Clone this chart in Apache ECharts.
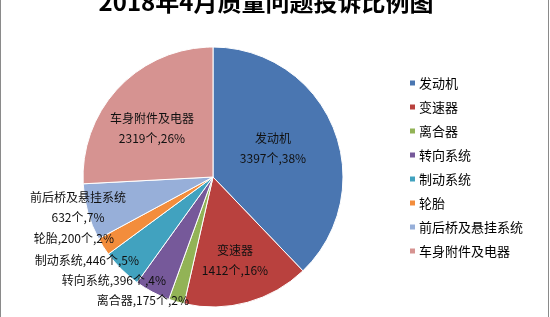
<!DOCTYPE html>
<html>
<head>
<meta charset="utf-8">
<script src="https://cdn.jsdelivr.net/npm/echarts@6/dist/echarts.min.js"></script>
<style>
  html, body { margin: 0; padding: 0; background: #fff; }
  #chart { width: 550px; height: 317px; }
</style>
</head>
<body>
<div id="chart"></div>
<script>
const titleText = "2018年4月质量问题投诉比例图";
const categories = ["发动机", "变速器", "离合器", "转向系统", "制动系统", "轮胎", "前后桥及悬挂系统", "车身附件及电器"];
const counts = [3397, 1412, 175, 396, 446, 200, 632, 2319];
const percentLabels = ["38%", "16%", "2%", "4%", "5%", "2%", "7%", "26%"];

const colors = ["#4A76B1", "#B9413E", "#92B356", "#76599A", "#41A2BF", "#F38D3C", "#97AFD9", "#D69391"];

// where Excel put each label (center for inside ones, right end for outside ones)
const labelSpots = [
  { x: 273, y: 148, align: "center" },
  { x: 235, y: 260, align: "center" },
  { x: 189, y: 300, align: "right" },
  { x: 166, y: 280, align: "right" },
  { x: 139, y: 260, align: "right" },
  { x: 114, y: 238, align: "right" },
  { x: 78, y: 207, align: "center" },
  { x: 152, y: 128, align: "center" }
];
const insideSet = [0, 1, 6, 7];

const chart = echarts.init(document.getElementById("chart"));

const option = {
  animation: false,
  backgroundColor: "#fff",
  color: colors,
  title: {
    text: titleText,
    left: 261,
    textAlign: "center",
    top: -15,
    textStyle: {
      fontFamily: "Noto Sans CJK SC",
      fontSize: 24,
      fontWeight: "bold",
      color: "#000"
    }
  },
  legend: {
    orient: "vertical",
    left: 403,
    top: 71,
    icon: "rect",
    itemWidth: 7,
    itemHeight: 7,
    itemGap: 10,
    data: categories,
    textStyle: {
      fontFamily: "Noto Sans CJK SC",
      fontSize: 13,
      lineHeight: 14,
      color: "#000",
      padding: [0, 0, 0, -2]
    }
  },
  graphic: [
    { type: "line", shape: { x1: 0.5, y1: 0, x2: 0.5, y2: 317 }, style: { stroke: "#8a8a8a", lineWidth: 1 } },
    { type: "line", shape: { x1: 548.5, y1: 0, x2: 548.5, y2: 317 }, style: { stroke: "#8a8a8a", lineWidth: 1 } }
  ],
  series: [
    {
      type: "pie",
      center: [213, 177],
      radius: 130,
      startAngle: 90,
      clockwise: true,
      avoidLabelOverlap: false,
      itemStyle: { borderColor: "#fff", borderWidth: 1 },
      label: {
        show: true,
        fontFamily: "Noto Sans CJK SC",
        fontSize: 12,
        color: "#111",
        lineHeight: 20,
        formatter: function (p) {
          const i = p.dataIndex;
          if (insideSet.indexOf(i) >= 0) {
            return categories[i] + "\n" + counts[i] + "个," + percentLabels[i];
          }
          return categories[i] + "," + counts[i] + "个," + percentLabels[i];
        }
      },
      labelLine: { show: false },
      labelLayout: function (p) {
        const s = labelSpots[p.dataIndex];
        return { x: s.x, y: s.y, align: s.align, verticalAlign: "middle" };
      },
      data: categories.map(function (name, i) {
        return {
          name: name,
          value: counts[i],
          label: { position: insideSet.indexOf(i) >= 0 && i !== 6 ? "inside" : "outside" }
        };
      })
    }
  ]
};

chart.setOption(option);
</script>
</body>
</html>
